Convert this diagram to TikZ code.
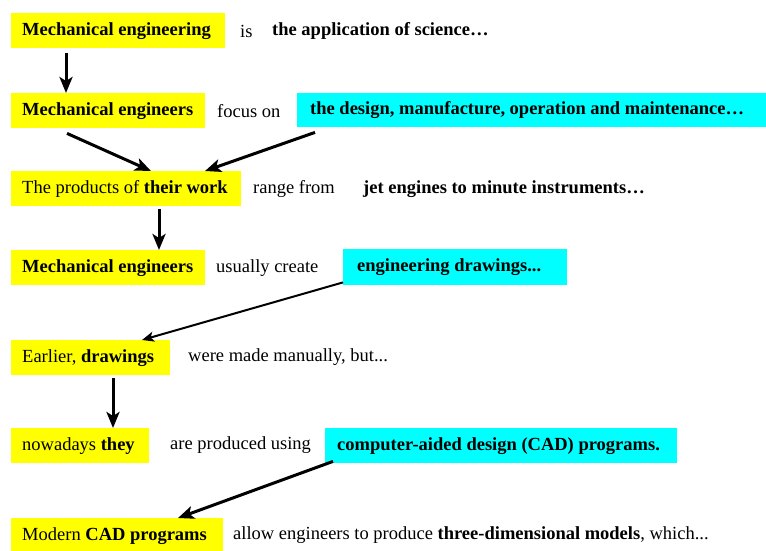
\documentclass[tikz,border=0pt]{standalone}
\usepackage{fontspec}
\setmainfont{Liberation Serif}
\usetikzlibrary{arrows.meta}
\definecolor{hlyellow}{HTML}{FFFF00}
\definecolor{hlcyan}{HTML}{00FFFF}
\newcommand{\boxtext}[2]{\makebox[#1pt][l]{#2}}
\begin{document}
\begin{tikzpicture}[x=1pt,y=-1pt,
  font=\fontsize{18.5}{21}\selectfont,
  hbox/.style={anchor=north west, inner xsep=11pt, inner ysep=0pt, minimum height=35pt},
  ybox/.style={hbox, fill=hlyellow},
  cbox/.style={hbox, fill=hlcyan},
  plain/.style={anchor=west, inner sep=0pt},
  thickarr/.style={-{Stealth[length=16pt,width=13pt,inset=4pt]}, line width=3pt},
  thinarr/.style={-{Stealth[length=12pt,width=10pt,inset=3pt]}, line width=2pt}]
\useasboundingbox (0,0) rectangle (766,550);
\fill[white] (0,0) rectangle (766,550);
% row 1
\node[ybox] (b1) at (11,13) {\boxtext{192}{\textbf{Mechanical engineering}}};
\node[plain] (t1a) at (240,31) {is};
\node[plain] (t1b) at (272,31) {\textbf{the application of science\ldots}};
% row 2
\node[ybox] (b2) at (11,93) {\boxtext{172}{\textbf{Mechanical engineers}}};
\node[plain] (t2a) at (217,111) {focus on};
\node[cbox, inner xsep=13pt, minimum height=34pt] (c2) at (297,93) {\boxtext{447}{\textbf{the design, manufacture, operation and maintenance\ldots}}};
% row 3
\node[ybox] (b3) at (11,171) {\boxtext{208}{The products of \textbf{their work}}};
\node[plain] (t3a) at (253,189) {range from};
\node[plain] (t3b) at (363,189) {\textbf{jet engines to minute instruments\ldots}};
% row 4
\node[ybox] (b4) at (11,250) {\boxtext{172}{\textbf{Mechanical engineers}}};
\node[plain] (t4a) at (216,268) {usually create};
\node[cbox, inner xsep=14pt, minimum height=36pt] (c4) at (343,249) {\boxtext{196}{\textbf{engineering drawings...}}};
% row 5
\node[ybox] (b5) at (11,340) {\boxtext{137}{Earlier, \textbf{drawings}}};
\node[plain] (t5a) at (188,357) {were made manually, but...};
% row 6
\node[ybox] (b6) at (11,428) {\boxtext{116}{nowadays \textbf{they}}};
\node[plain] (t6a) at (170,445) {are produced using};
\node[cbox, inner xsep=12pt] (c6) at (325,428) {\boxtext{328}{\textbf{computer-aided design (CAD) programs.}}};
% row 7
\node[ybox] (b7) at (11,518) {\boxtext{190}{Modern \textbf{CAD programs}}};
\node[plain] (t7a) at (233,535) {allow engineers to produce \textbf{three-dimensional models}, which...};
% connectors
\draw[thickarr] ([xshift=55pt,yshift=-5pt]b1.south west) -- ([xshift=55pt]b2.north west);
\draw[thickarr] ([xshift=56pt,yshift=-5pt]b2.south west) -- ([xshift=140pt]b3.north west);
\draw[thickarr] ([xshift=18pt,yshift=-5pt]c2.south west) -- ([xshift=194pt]b3.north west);
\draw[thickarr] ([xshift=148pt,yshift=-3pt]b3.south west) -- ([xshift=148pt]b4.north west);
\draw[thinarr] ([yshift=3pt]c4.south west) -- ([xshift=131pt]b5.north west);
\draw[thickarr] ([xshift=102pt,yshift=-3pt]b5.south west) -- ([xshift=102pt]b6.north west);
\draw[thickarr] ([xshift=8pt,yshift=2pt]c6.south west) -- ([xshift=167pt]b7.north west);
\end{tikzpicture}
\end{document}
